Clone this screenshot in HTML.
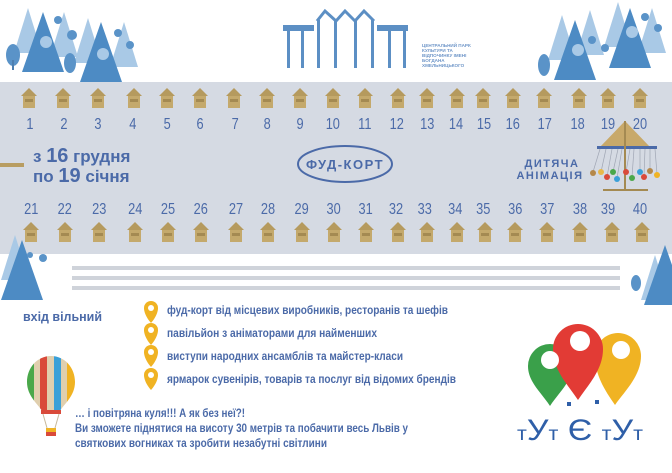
<!DOCTYPE html>
<html><head><meta charset="utf-8"><style>
html,body{margin:0;padding:0;background:#fff;}
svg{display:block;font-family:"Liberation Sans","Noto Sans CJK SC",sans-serif;}
</style></head><body>
<svg width="672" height="473" viewBox="0 0 672 473" xmlns="http://www.w3.org/2000/svg">
<defs>
<g id="h"><polygon points="-8,8 0,0 8,8" fill="#b59a5e"/><rect x="-6" y="8" width="12" height="12" fill="#c4a96c"/><rect x="-4" y="11" width="8" height="3" fill="#a48a52"/></g>
<g id="tl"><polygon points="0,0 -14,45 14,45" fill="#a9c9e6"/></g>
<g id="td"><polygon points="0,0 -21,60 21,60" fill="#4d8bc4"/></g>
<g id="pin"><path d="M0,14 C-7,6 -7,0 -7,-1 A7,7 0 1 1 7,-1 C7,0 7,6 0,14Z" fill="#f0b323"/><circle cx="0" cy="-1" r="3" fill="#fff"/></g>
</defs>
<rect x="0" y="82" width="672" height="172" fill="#d5dae3"/>
<!-- trees top-left -->
<g>
<use href="#tl" x="28" y="8"/><use href="#tl" x="64" y="12"/><use href="#tl" x="88" y="18"/><use href="#tl" x="124" y="22"/>
<use href="#td" x="43" y="12"/><use href="#td" x="101" y="22"/>
<ellipse cx="13" cy="55" rx="7" ry="11" fill="#5a93c8"/><rect x="12" y="60" width="2" height="10" fill="#4d7fb0"/>
<ellipse cx="70" cy="63" rx="6" ry="10" fill="#5a93c8"/>
<circle cx="58" cy="20" r="4" fill="#5a93c8"/><circle cx="72" cy="35" r="5" fill="#5a93c8"/><circle cx="118" cy="33" r="4" fill="#5a93c8"/><circle cx="130" cy="45" r="4" fill="#5a93c8"/>
<circle cx="46" cy="42" r="6" fill="#a9c9e6"/><circle cx="103" cy="54" r="6" fill="#a9c9e6"/>
</g>
<!-- trees top-right -->
<g>
<use href="#tl" x="562" y="15"/><use href="#tl" x="590" y="10"/><use href="#tl" x="618" y="2"/><use href="#tl" x="652" y="8"/>
<use href="#td" x="575" y="20"/><use href="#td" x="630" y="8"/>
<ellipse cx="544" cy="65" rx="6" ry="11" fill="#5a93c8"/>
<circle cx="592" cy="40" r="4" fill="#5a93c8"/><circle cx="605" cy="48" r="4" fill="#5a93c8"/><circle cx="645" cy="17" r="4" fill="#5a93c8"/><circle cx="658" cy="28" r="4" fill="#5a93c8"/>
<circle cx="578" cy="50" r="6" fill="#a9c9e6"/><circle cx="632" cy="32" r="6" fill="#a9c9e6"/>
</g>
<!-- trees bottom -->
<use href="#tl" x="15" y="235"/><use href="#td" x="22" y="240"/><circle cx="30" cy="255" r="3" fill="#5a93c8"/><circle cx="43" cy="258" r="4" fill="#5a93c8"/>
<use href="#tl" x="655" y="255"/><use href="#td" x="665" y="245"/><ellipse cx="636" cy="283" rx="5" ry="8" fill="#5a93c8"/>
<!-- building -->
<g fill="#5c8fc4">
<rect x="283" y="25" width="31" height="6"/><rect x="377" y="25" width="31" height="6"/>
<rect x="287" y="31" width="3" height="37"/><rect x="301" y="31" width="3" height="37"/>
<rect x="388" y="31" width="3" height="37"/><rect x="403" y="31" width="3" height="37"/>
<rect x="317" y="20" width="3" height="48"/><rect x="334" y="20" width="3" height="48"/><rect x="354" y="20" width="3" height="48"/><rect x="371" y="20" width="3" height="48"/>
<polyline points="317,21 325,11 336,21 345,11 355,21 364,11 374,21" fill="none" stroke="#5c8fc4" stroke-width="3"/>
</g>
<g font-size="4.6" fill="#6f96c8" font-weight="bold"><text x="422" y="47">ЦЕНТРАЛЬНИЙ ПАРК</text><text x="422" y="52">КУЛЬТУРИ ТА</text><text x="422" y="57">ВІДПОЧИНКУ ІМЕНІ</text><text x="422" y="62">БОГДАНА</text><text x="422" y="67">ХМЕЛЬНИЦЬКОГО</text></g>
<!-- houses top -->
<g>
<use href="#h" x="29" y="88"/><use href="#h" x="63" y="88"/><use href="#h" x="98" y="88"/><use href="#h" x="134" y="88"/><use href="#h" x="167" y="88"/><use href="#h" x="200" y="88"/><use href="#h" x="234" y="88"/><use href="#h" x="267" y="88"/><use href="#h" x="300" y="88"/><use href="#h" x="333" y="88"/><use href="#h" x="365" y="88"/><use href="#h" x="398" y="88"/><use href="#h" x="427" y="88"/><use href="#h" x="457" y="88"/><use href="#h" x="483" y="88"/><use href="#h" x="513" y="88"/><use href="#h" x="544" y="88"/><use href="#h" x="579" y="88"/><use href="#h" x="608" y="88"/><use href="#h" x="640" y="88"/>
</g>
<g>
<use href="#h" x="31" y="222"/><use href="#h" x="65" y="222"/><use href="#h" x="99" y="222"/><use href="#h" x="135" y="222"/><use href="#h" x="168" y="222"/><use href="#h" x="201" y="222"/><use href="#h" x="236" y="222"/><use href="#h" x="268" y="222"/><use href="#h" x="302" y="222"/><use href="#h" x="334" y="222"/><use href="#h" x="366" y="222"/><use href="#h" x="398" y="222"/><use href="#h" x="427" y="222"/><use href="#h" x="457" y="222"/><use href="#h" x="485" y="222"/><use href="#h" x="515" y="222"/><use href="#h" x="547" y="222"/><use href="#h" x="580" y="222"/><use href="#h" x="612" y="222"/><use href="#h" x="642" y="222"/>
</g>
<g font-size="16" fill="#4b6aa8" text-anchor="middle" transform="scale(0.8,1)">
<text y="129"><tspan x="37.5">1</tspan><tspan x="80">2</tspan><tspan x="122.5">3</tspan><tspan x="166">4</tspan><tspan x="209">5</tspan><tspan x="250">6</tspan><tspan x="294">7</tspan><tspan x="334">8</tspan><tspan x="375">9</tspan><tspan x="416">10</tspan><tspan x="456">11</tspan><tspan x="496">12</tspan><tspan x="534">13</tspan><tspan x="570">14</tspan><tspan x="605">15</tspan><tspan x="641">16</tspan><tspan x="681">17</tspan><tspan x="722">18</tspan><tspan x="760">19</tspan><tspan x="800">20</tspan></text>
<text y="214"><tspan x="39">21</tspan><tspan x="81">22</tspan><tspan x="124">23</tspan><tspan x="169">24</tspan><tspan x="210">25</tspan><tspan x="251">26</tspan><tspan x="295">27</tspan><tspan x="335">28</tspan><tspan x="377">29</tspan><tspan x="417">30</tspan><tspan x="457">31</tspan><tspan x="495">32</tspan><tspan x="531">33</tspan><tspan x="569">34</tspan><tspan x="604">35</tspan><tspan x="644">36</tspan><tspan x="684">37</tspan><tspan x="725">38</tspan><tspan x="760">39</tspan><tspan x="800">40</tspan></text>
</g>
<rect x="0" y="163" width="24" height="4" fill="#b89d62"/>
<g fill="#4b6aa8" font-weight="bold" font-size="17"><text x="33" y="162">з <tspan font-size="20">16</tspan> грудня</text><text x="33" y="182">по <tspan font-size="20">19</tspan> січня</text></g>
<ellipse cx="345" cy="164" rx="47" ry="18" fill="none" stroke="#4b6aa8" stroke-width="2"/>
<text x="345" y="169" text-anchor="middle" font-size="13" font-weight="bold" fill="#4b6aa8" letter-spacing="1.5">ФУД-КОРТ</text>
<g font-size="11" font-weight="bold" fill="#4b6aa8" text-anchor="middle" letter-spacing="1.5"><text x="552" y="167">ДИТЯЧА</text><text x="550" y="179">АНІМАЦІЯ</text></g>
<!-- carousel -->
<polygon points="625,121 600,147 650,147" fill="#c8a96a"/>
<rect x="597" y="146" width="60" height="3" fill="#4b6aa8"/>
<rect x="624" y="121" width="2" height="70" fill="#a48a52"/>
<rect x="603" y="189" width="45" height="2" fill="#a48a52"/>
<g stroke="#a0a6b4" stroke-width="0.7">
<line x1="600" y1="149" x2="593" y2="172"/><line x1="606" y1="149" x2="601" y2="172"/><line x1="612" y1="149" x2="607" y2="177"/><line x1="618" y1="149" x2="613" y2="172"/><line x1="622" y1="149" x2="617" y2="178"/><line x1="630" y1="149" x2="626" y2="172"/><line x1="634" y1="149" x2="632" y2="177"/><line x1="640" y1="149" x2="640" y2="172"/><line x1="645" y1="149" x2="644" y2="176"/><line x1="650" y1="149" x2="650" y2="172"/><line x1="655" y1="149" x2="657" y2="174"/>
</g>
<g><circle cx="593" cy="173" r="3" fill="#b5884a"/><circle cx="601" cy="172" r="3" fill="#e8b84a"/><circle cx="607" cy="177" r="3" fill="#d94a3a"/><circle cx="613" cy="172" r="3" fill="#4aa84a"/><circle cx="617" cy="179" r="3" fill="#3aa0d8"/><circle cx="626" cy="172" r="3" fill="#d94a3a"/><circle cx="632" cy="178" r="3" fill="#4aa84a"/><circle cx="640" cy="172" r="3" fill="#3aa0d8"/><circle cx="644" cy="177" r="3" fill="#d94a3a"/><circle cx="650" cy="171" r="3" fill="#b5884a"/><circle cx="657" cy="175" r="3" fill="#f0b323"/></g>
<!-- stripes -->
<g fill="#cfd3da"><rect x="72" y="266" width="548" height="4"/><rect x="72" y="276" width="548" height="4"/><rect x="72" y="286" width="548" height="4"/></g>
<text x="23" y="321" font-size="13" font-weight="bold" fill="#4b6aa8" textLength="79" lengthAdjust="spacingAndGlyphs">вхід вільний</text>
<g><use href="#pin" x="151" y="309"/><use href="#pin" x="151" y="331"/><use href="#pin" x="151" y="353"/><use href="#pin" x="151" y="376"/></g>
<g font-size="12" font-weight="bold" fill="#4b6aa8" lengthAdjust="spacingAndGlyphs"><text x="167" y="314" textLength="281" lengthAdjust="spacingAndGlyphs">фуд-корт від місцевих виробників, ресторанів та шефів</text><text x="167" y="337" textLength="210" lengthAdjust="spacingAndGlyphs">павільйон з аніматорами для найменших</text><text x="167" y="360" textLength="236" lengthAdjust="spacingAndGlyphs">виступи народних ансамблів та майстер-класи</text><text x="167" y="383" textLength="289" lengthAdjust="spacingAndGlyphs">ярмарок сувенірів, товарів та послуг від відомих брендів</text></g>
<!-- balloon -->
<g>
<clipPath id="bc"><path d="M51,356 C37,356 27,368 27,382 C27,396 38,404 42,411 L60,411 C64,404 75,396 75,382 C75,368 65,356 51,356Z"/></clipPath>
<g clip-path="url(#bc)"><rect x="25" y="350" width="9" height="70" fill="#4aa84a"/><rect x="34" y="350" width="6" height="70" fill="#e0cfae"/><rect x="40" y="350" width="7" height="70" fill="#d94a3a"/><rect x="47" y="350" width="7" height="70" fill="#e0cfae"/><rect x="54" y="350" width="7" height="70" fill="#3aa0d8"/><rect x="61" y="350" width="6" height="70" fill="#e0cfae"/><rect x="67" y="350" width="10" height="70" fill="#f0b323"/></g>
<rect x="41" y="410" width="20" height="4" fill="#d94a3a"/>
<line x1="43" y1="414" x2="47" y2="428" stroke="#c8b89a"/><line x1="59" y1="414" x2="55" y2="428" stroke="#c8b89a"/>
<rect x="46" y="428" width="10" height="8" fill="#f0b323"/><rect x="46" y="432" width="10" height="4" fill="#d94a3a"/>
</g>
<g font-size="11.5" font-weight="bold" fill="#4b6aa8"><text x="75" y="417" textLength="170" lengthAdjust="spacingAndGlyphs">… і повітряна куля!!! А як без неї?!</text><text x="75" y="432" textLength="333" lengthAdjust="spacingAndGlyphs">Ви зможете піднятися на висоту 30 метрів та побачити весь Львів у</text><text x="75" y="447" textLength="252" lengthAdjust="spacingAndGlyphs">святкових вогниках та зробити незабутні світлини</text></g>
<!-- logo -->
<path d="M550,406 C541,392 528,382 528,366 A22,22 0 1 1 572,366 C572,382 559,392 550,406Z" fill="#3aa04a"/>
<path d="M615,405 C606,392 595,376 595,356 A23,23 0 1 1 641,356 C641,376 624,392 615,405Z" fill="#f0b323"/>
<path d="M578,400 C568,385 553,370 553,349 A25,25 0 1 1 603,349 C603,370 588,385 578,400Z" fill="#e23b35"/>
<circle cx="550" cy="360" r="9" fill="#fff"/><circle cx="580" cy="341" r="10" fill="#fff"/><circle cx="621" cy="350" r="9" fill="#fff"/>
<rect x="567" y="402" width="4" height="4" fill="#2f5fa8"/><rect x="595" y="400" width="4" height="4" fill="#2f5fa8"/>
<text x="517" y="440" font-size="30" fill="#2f5fa8" textLength="126" lengthAdjust="spacingAndGlyphs"><tspan font-size="19">т</tspan>У<tspan font-size="19">т</tspan> Є <tspan font-size="19">т</tspan>У<tspan font-size="19">т</tspan></text>
</svg>
</body></html>
